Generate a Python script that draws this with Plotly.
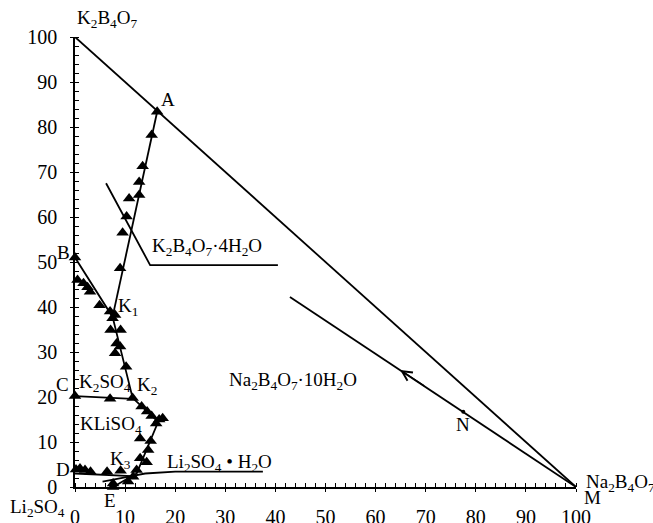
import plotly.graph_objects as go

FONT = "Liberation Serif"

# ---- data (mass fractions) ----
# experimental points (triangles)
pts_x = [16.4, 15.3, 13.5, 12.8, 12.8, 10.8, 10.3, 9.5, 9.0,
         0.0, 0.5, 1.7, 2.5, 3.0, 4.9, 7.0, 8.0, 7.5, 7.1, 9.1, 8.3, 9.0, 8.0, 10.2,
         0.0, 7.0, 11.5,
         13.3, 14.4, 15.3, 16.2, 16.8, 17.5, 13.0, 15.1, 14.6, 13.0, 14.3, 12.3, 11.6,
         0.2, 1.0, 2.0, 3.1, 6.4, 9.1, 7.6, 7.6, 10.6]
pts_y = [83.4, 78.2, 71.3, 67.8, 64.9, 64.1, 60.1, 56.5, 48.6,
         51.0, 46.0, 45.3, 44.4, 43.4, 40.4, 39.0, 38.2, 37.5, 34.9, 34.9, 31.9, 31.2, 29.7, 26.7,
         20.2, 19.6, 19.8,
         17.9, 16.8, 15.8, 14.1, 15.0, 15.3, 10.8, 10.2, 8.2, 6.4, 5.5, 3.8, 2.3,
         3.9, 4.1, 3.8, 3.4, 3.4, 3.6, 0.8, 0.0, 1.2]

# boundary lines
hyp_x = [0, 100];            hyp_y = [100, 0]
ak1_x = [7.5, 16.4];         ak1_y = [37.8, 83.4]
bk_x = [0, 7.5, 11.5];       bk_y = [51.0, 37.8, 19.8]
ck2_x = [0, 11.5];           ck2_y = [20.2, 19.6]
k2k3_x = [11.5, 16.6, 12.3, 11.3]; k2k3_y = [19.8, 14.5, 3.0, 2.4]
dk3_x = [0, 11.3];           dk3_y = [3.0, 2.4]
e_x = [5.5, 11.3];           e_y = [1.2, 2.4]
ek_x = [7.6, 11.3];          ek_y = [0.0, 2.4]
li_x = [11.3, 14.0, 20.0, 37.5]; li_y = [2.4, 3.0, 3.4, 3.4]
k4_x = [6.2, 15.0, 40.5];    k4_y = [67.5, 49.3, 49.3]
mn_x = [100, 42.9];          mn_y = [0, 42.2]
n_x = [77.5];                n_y = [16.7]
arrow_tip = (64.9, 26.0)
arrow_tail = (70.0, 22.25)

# labels: (text, x, y, xanchor) in data units (0-100 on both axes)
labels = [
    ("K<sub>2</sub>B<sub>4</sub>O<sub>7</sub>", 6.4, 104.0, "center"),
    ("A", 18.6, 86.2, "center"),
    ("B", -2.2, 52.2, "center"),
    ("K<sub>1</sub>", 10.6, 40.0, "center"),
    ("C", -2.4, 22.7, "center"),
    ("K<sub>2</sub>SO<sub>4</sub>", 6.0, 23.1, "center"),
    ("K<sub>2</sub>", 14.4, 22.4, "center"),
    ("KLiSO<sub>4</sub>", 7.2, 13.8, "center"),
    ("K<sub>3</sub>", 9.0, 6.0, "center"),
    ("D", -2.4, 3.8, "center"),
    ("Li<sub>2</sub>SO<sub>4</sub> • H<sub>2</sub>O", 28.9, 5.3, "center"),
    ("E", 7.0, -3.1, "center"),
    ("Li<sub>2</sub>SO<sub>4</sub>", -7.4, -4.7, "center"),
    ("K<sub>2</sub>B<sub>4</sub>O<sub>7</sub>·4H<sub>2</sub>O", 26.3, 53.3, "center"),
    ("Na<sub>2</sub>B<sub>4</sub>O<sub>7</sub>·10H<sub>2</sub>O", 43.5, 23.6, "center"),
    ("N", 77.4, 13.8, "center"),
    ("Na<sub>2</sub>B<sub>4</sub>O<sub>7</sub>", 101.6, 0.9, "left"),
    ("M", 103.2, -2.4, "center"),
]

X_RANGE = [0, 100]
Y_RANGE = [0, 100]

fig = go.Figure()
line_sets = [(hyp_x, hyp_y), (ak1_x, ak1_y), (bk_x, bk_y), (ck2_x, ck2_y),
             (k2k3_x, k2k3_y), (dk3_x, dk3_y), (e_x, e_y), (ek_x, ek_y),
             (li_x, li_y), (k4_x, k4_y), (mn_x, mn_y)]
for lx, ly in line_sets:
    fig.add_trace(go.Scatter(x=lx, y=ly, mode="lines", line=dict(color="black", width=1.8),
                             cliponaxis=False, showlegend=False, hoverinfo="skip"))
fig.add_trace(go.Scatter(x=pts_x, y=pts_y, mode="markers",
                         marker=dict(symbol="triangle-up", size=11, color="black"),
                         cliponaxis=False, showlegend=False))
fig.add_trace(go.Scatter(x=n_x, y=n_y, mode="markers",
                         marker=dict(symbol="circle", size=4, color="black"),
                         cliponaxis=False, showlegend=False))
# invisible trace for the overlay axes (inner half of major ticks)
fig.add_trace(go.Scatter(x=[0], y=[0], xaxis="x2", yaxis="y2", mode="markers",
                         marker=dict(opacity=0), showlegend=False, hoverinfo="skip"))

def to_paper(v, rng):
    return (v - rng[0]) / (rng[1] - rng[0])

for text, lx, ly, xa in labels:
    fig.add_annotation(x=to_paper(lx, X_RANGE), y=to_paper(ly, Y_RANGE),
                       xref="paper", yref="paper", text=text, showarrow=False,
                       xanchor=xa, yanchor="middle",
                       font=dict(family=FONT, size=19, color="black"))

fig.add_annotation(x=arrow_tip[0], y=arrow_tip[1], ax=arrow_tail[0], ay=arrow_tail[1],
                   axref="x", ayref="y", xref="x", yref="y", text="", showarrow=True,
                   arrowhead=5, arrowsize=1.5, arrowwidth=1.3, arrowcolor="black", standoff=0)

axis_common = dict(showgrid=False, zeroline=False, showline=True, linecolor="black",
                   linewidth=1.6, ticks="outside", ticklen=3, tickwidth=1.3, tickcolor="black",
                   dtick=10, tick0=0, automargin=False,
                   tickfont=dict(family=FONT, size=20, color="black"),
                   minor=dict(ticks="inside", ticklen=4, tickwidth=1.3, tickcolor="black",
                              dtick=2, tick0=0))
fig.update_layout(
    width=653, height=523,
    font=dict(family=FONT, size=20, color="black"),
    margin=dict(l=75, r=77, t=37, b=36),
    plot_bgcolor="white", paper_bgcolor="white",
    xaxis=dict(range=X_RANGE, ticklabelstandoff=8, **axis_common),
    yaxis=dict(range=Y_RANGE, ticklabelstandoff=9, **axis_common),
    xaxis2=dict(range=X_RANGE, overlaying="x", anchor="y2", showgrid=False, zeroline=False,
                showline=False, ticks="inside", ticklen=3, tickwidth=1.3, tickcolor="black",
                dtick=10, tick0=0, showticklabels=False, automargin=False),
    yaxis2=dict(range=Y_RANGE, overlaying="y", anchor="x2", showgrid=False, zeroline=False,
                showline=False, ticks="inside", ticklen=3, tickwidth=1.3, tickcolor="black",
                dtick=10, tick0=0, showticklabels=False, automargin=False),
    showlegend=False,
)

fig.write_html("out.html")
